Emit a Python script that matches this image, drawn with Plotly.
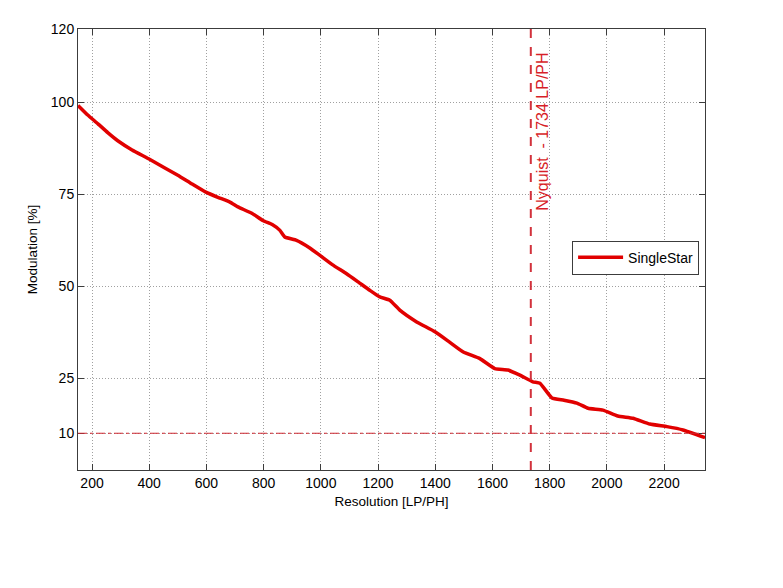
import plotly.graph_objects as go

resolution = [151, 185, 221, 255, 290, 340, 398, 450, 500, 550, 598, 640, 682, 710, 760, 797,
              830, 857, 874, 915, 960, 997, 1040, 1090, 1130, 1171, 1206, 1241, 1276, 1335,
              1399, 1450, 1498, 1556, 1608, 1654, 1696, 1741, 1766, 1808, 1850, 1895, 1934,
              1986, 2038, 2091, 2150, 2210, 2266, 2343]
modulation = [99.2, 96.6, 94.2, 91.8, 89.6, 87.1, 84.7, 82.4, 80.2, 77.8, 75.6, 74.2, 72.9, 71.6,
              69.8, 67.9, 66.8, 65.2, 63.4, 62.5, 60.5, 58.4, 55.9, 53.4, 51.2, 48.9, 47.1, 46.2,
              43.5, 40.3, 37.6, 34.8, 32.1, 30.3, 27.6, 27.2, 25.8, 24.0, 23.6, 19.6, 19.0,
              18.2, 16.8, 16.3, 14.7, 14.1, 12.5, 11.8, 10.9, 8.8]
nyquist = 1734
threshold = 10
x_ticks = [200, 400, 600, 800, 1000, 1200, 1400, 1600, 1800, 2000, 2200]
y_ticks = [10, 25, 50, 75, 100, 120]
x_range = [151, 2343]
y_range = [0, 120]

FONT = "Liberation Sans, Arial, Helvetica, sans-serif"

fig = go.Figure()
fig.add_trace(go.Scatter(
    x=resolution, y=modulation, mode="lines", name="SingleStar",
    line=dict(color="rgb(225,0,0)", width=3.5, shape="spline", smoothing=0.4),
))

fig.add_shape(type="line", xref="x", yref="y", x0=x_range[0], x1=x_range[1],
              y0=threshold, y1=threshold,
              line=dict(color="rgb(205,40,50)", width=1, dash="dashdot"))
fig.add_shape(type="line", xref="x", yref="y", x0=nyquist, x1=nyquist,
              y0=y_range[0], y1=y_range[1],
              line=dict(color="rgb(210,50,60)", width=2, dash="dash"))
fig.add_annotation(x=nyquist, y=92, xref="x", yref="y", xshift=12,
                   text="Nyquist  - 1734 LP/PH", textangle=-90, showarrow=False,
                   font=dict(family=FONT, size=16, color="rgb(215,30,40)"))

axis_common = dict(
    showline=True, linecolor="rgb(60,60,60)", linewidth=1, mirror="ticks",
    ticks="inside", ticklen=6, tickcolor="rgb(60,60,60)",
    showgrid=True, gridcolor="rgb(160,160,160)", griddash="1px,2px", gridwidth=1,
    zeroline=False, tickfont=dict(family=FONT, size=14, color="black"),
)
fig.update_xaxes(range=x_range, tickvals=x_ticks,
                 title=dict(text="Resolution [LP/PH]", font=dict(family=FONT, size=13.5, color="black"),
                            standoff=6),
                 **axis_common)
fig.update_yaxes(range=y_range, tickvals=y_ticks,
                 title=dict(text="Modulation [%]", font=dict(family=FONT, size=13.5, color="black"),
                            standoff=10),
                 **axis_common)

fig.update_layout(
    width=783, height=588,
    margin=dict(l=78, r=78, t=29, b=118),
    plot_bgcolor="white", paper_bgcolor="white",
    showlegend=True,
    legend=dict(x=0.788, y=0.52, xanchor="left", yanchor="top",
                bgcolor="white", bordercolor="rgb(60,60,60)", borderwidth=1,
                itemwidth=45,
                font=dict(family=FONT, size=14, color="black")),
)

fig.write_html("out.html")
